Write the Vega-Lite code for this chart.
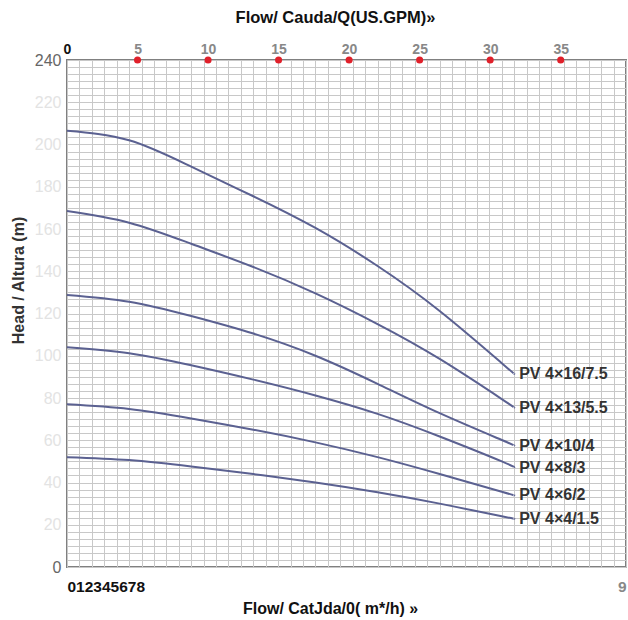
{
  "$schema": "https://vega.github.io/schema/vega-lite/v6.json",
  "width": 559,
  "height": 507,
  "autosize": {"type": "none"},
  "padding": {"left": 67, "top": 60, "right": 2, "bottom": 53},
  "background": "white",
  "config": {
    "view": {"stroke": "#808080", "strokeWidth": 2},
    "font": "Liberation Sans"
  },
  "datasets": {
    "curves": [
      {"model": "PV 4×16/7.5", "flow": 0, "head": 206.5},
      {"model": "PV 4×16/7.5", "flow": 1, "head": 202},
      {"model": "PV 4×16/7.5", "flow": 2, "head": 189.5},
      {"model": "PV 4×16/7.5", "flow": 3, "head": 175.5},
      {"model": "PV 4×16/7.5", "flow": 4, "head": 160.5},
      {"model": "PV 4×16/7.5", "flow": 5, "head": 142.5},
      {"model": "PV 4×16/7.5", "flow": 6, "head": 121.2},
      {"model": "PV 4×16/7.5", "flow": 7, "head": 96.5},
      {"model": "PV 4×16/7.5", "flow": 7.2, "head": 91.5},
      {"model": "PV 4×13/5.5", "flow": 0, "head": 168.5},
      {"model": "PV 4×13/5.5", "flow": 1, "head": 163},
      {"model": "PV 4×13/5.5", "flow": 2, "head": 153},
      {"model": "PV 4×13/5.5", "flow": 3, "head": 142},
      {"model": "PV 4×13/5.5", "flow": 4, "head": 129.5},
      {"model": "PV 4×13/5.5", "flow": 5, "head": 115},
      {"model": "PV 4×13/5.5", "flow": 6, "head": 98.5},
      {"model": "PV 4×13/5.5", "flow": 7, "head": 79.5},
      {"model": "PV 4×13/5.5", "flow": 7.2, "head": 75.5},
      {"model": "PV 4×10/4", "flow": 0, "head": 128.8},
      {"model": "PV 4×10/4", "flow": 1, "head": 125.6},
      {"model": "PV 4×10/4", "flow": 2, "head": 118.8},
      {"model": "PV 4×10/4", "flow": 3, "head": 110.5},
      {"model": "PV 4×10/4", "flow": 4, "head": 100},
      {"model": "PV 4×10/4", "flow": 5, "head": 86.7},
      {"model": "PV 4×10/4", "flow": 6, "head": 72.8},
      {"model": "PV 4×10/4", "flow": 7, "head": 60.1},
      {"model": "PV 4×10/4", "flow": 7.2, "head": 57.5},
      {"model": "PV 4×8/3", "flow": 0, "head": 104},
      {"model": "PV 4×8/3", "flow": 1, "head": 101.2},
      {"model": "PV 4×8/3", "flow": 2, "head": 95.5},
      {"model": "PV 4×8/3", "flow": 3, "head": 88.7},
      {"model": "PV 4×8/3", "flow": 4, "head": 81.2},
      {"model": "PV 4×8/3", "flow": 5, "head": 72.5},
      {"model": "PV 4×8/3", "flow": 6, "head": 61.8},
      {"model": "PV 4×8/3", "flow": 7, "head": 50},
      {"model": "PV 4×8/3", "flow": 7.2, "head": 47},
      {"model": "PV 4×6/2", "flow": 0, "head": 77},
      {"model": "PV 4×6/2", "flow": 1, "head": 74.8},
      {"model": "PV 4×6/2", "flow": 2, "head": 70.3},
      {"model": "PV 4×6/2", "flow": 3, "head": 65},
      {"model": "PV 4×6/2", "flow": 4, "head": 59},
      {"model": "PV 4×6/2", "flow": 5, "head": 52},
      {"model": "PV 4×6/2", "flow": 6, "head": 44},
      {"model": "PV 4×6/2", "flow": 7, "head": 35.6},
      {"model": "PV 4×6/2", "flow": 7.2, "head": 34},
      {"model": "PV 4×4/1.5", "flow": 0, "head": 52},
      {"model": "PV 4×4/1.5", "flow": 1, "head": 50.6},
      {"model": "PV 4×4/1.5", "flow": 2, "head": 47.6},
      {"model": "PV 4×4/1.5", "flow": 3, "head": 44},
      {"model": "PV 4×4/1.5", "flow": 4, "head": 40},
      {"model": "PV 4×4/1.5", "flow": 5, "head": 35.4},
      {"model": "PV 4×4/1.5", "flow": 6, "head": 30},
      {"model": "PV 4×4/1.5", "flow": 7, "head": 24},
      {"model": "PV 4×4/1.5", "flow": 7.2, "head": 22.9}
    ],
    "gpm": [
      {"gpm": 5, "head": 240},
      {"gpm": 10, "head": 240},
      {"gpm": 15, "head": 240},
      {"gpm": 20, "head": 240},
      {"gpm": 25, "head": 240},
      {"gpm": 30, "head": 240},
      {"gpm": 35, "head": 240}
    ]
  },
  "layer": [
    {
      "data": {"name": "curves"},
      "layer": [
        {
          "mark": {"type": "line", "interpolate": "natural", "color": "#5b6191", "strokeWidth": 2},
          "encoding": {
            "x": {
              "field": "flow", "type": "quantitative",
              "scale": {"domain": [0, 9], "nice": false},
              "axis": {
                "orient": "bottom", "tickCount": 45, "grid": true, "gridColor": "#c8c8c8", "gridWidth": 1,
                "ticks": false, "domain": false,
                "labelExpr": "datum.value == 0 ? '012345678' : (datum.value == 9 ? '9' : '')",
                "labelOverlap": false, "labelFlush": false, "labelFontSize": 15.5, "labelFontWeight": "bold",
                "labelColor": {"condition": {"test": "datum.value == 0", "value": "#111111"}, "value": "#888888"},
                "labelAlign": {"condition": {"test": "datum.value == 0", "value": "left"}, "value": "right"},
                "labelPadding": 12,
                "title": "Flow/ CatJda/0( m*/h) »", "titleFontSize": 16, "titleFontWeight": "bold",
                "titleColor": "#111111", "titlePadding": 6, "titleX": 263
              }
            },
            "y": {
              "field": "head", "type": "quantitative",
              "scale": {"domain": [0, 240], "nice": false},
              "axis": {
                "orient": "left",
                "values": [0, 3.3333, 6.6667, 10, 13.3333, 16.6667, 20, 23.3333, 26.6667, 30, 33.3333, 36.6667, 40, 43.3333, 46.6667, 50, 53.3333, 56.6667, 60, 63.3333, 66.6667, 70, 73.3333, 76.6667, 80, 83.3333, 86.6667, 90, 93.3333, 96.6667, 100, 103.3333, 106.6667, 110, 113.3333, 116.6667, 120, 123.3333, 126.6667, 130, 133.3333, 136.6667, 140, 143.3333, 146.6667, 150, 153.3333, 156.6667, 160, 163.3333, 166.6667, 170, 173.3333, 176.6667, 180, 183.3333, 186.6667, 190, 193.3333, 196.6667, 200, 203.3333, 206.6667, 210, 213.3333, 216.6667, 220, 223.3333, 226.6667, 230, 233.3333, 236.6667, 240],
                "tickCount": 100,
                "grid": true, "gridColor": "#c8c8c8", "gridWidth": 1, "ticks": false, "domain": false,
                "labelExpr": "(datum.value > 1 && datum.value < 239 && abs(datum.value / 20 - round(datum.value / 20)) < 0.001) ? format(round(datum.value), 'd') : ''",
                "labelColor": "#e3e3e3",
                "labelFontSize": 16, "labelPadding": 6, "labelOverlap": false, "labelFlush": false,
                "title": "Head / Altura (m)", "titleFontSize": 16, "titleFontWeight": "bold", "titleColor": "#333333",
                "titleAngle": -90, "titleX": -49, "titleY": 220, "titleAlign": "center", "titleBaseline": "middle"
              }
            },
            "detail": {"field": "model"}
          }
        },
        {
          "transform": [{"filter": "datum.flow == 7.2"}],
          "mark": {"type": "text", "align": "left", "baseline": "middle", "dx": 5, "fontSize": 16, "fontWeight": "bold", "color": "#333333"},
          "encoding": {
            "x": {"field": "flow", "type": "quantitative"},
            "y": {"field": "head", "type": "quantitative"},
            "text": {"field": "model"}
          }
        }
      ]
    },
    {
      "data": {"name": "gpm"},
      "mark": {"type": "circle", "color": "#e0202a", "size": 50, "opacity": 1},
      "encoding": {
        "x": {
          "field": "gpm", "type": "quantitative",
          "scale": {"domain": [0, 39.63], "nice": false},
          "axis": {
            "orient": "top", "values": [0, 5, 10, 15, 20, 25, 30, 35], "grid": false, "ticks": false, "domain": false,
            "labelFontSize": 14, "labelFontWeight": "bold", "labelFlush": false, "labelOverlap": false,
            "labelColor": {"condition": {"test": "datum.value == 0", "value": "#111111"}, "value": "#888888"},
            "labelPadding": 4,
            "title": "Flow/ Cauda/Q(US.GPM)»", "titleFontSize": 16.5, "titleFontWeight": "bold",
            "titleColor": "#111111", "titlePadding": 17, "titleX": 268
          }
        },
        "y": {
          "field": "head", "type": "quantitative",
          "axis": {
            "orient": "left", "values": [0, 240], "grid": false, "ticks": false, "domain": false,
            "labelColor": "#666666", "labelFontSize": 16, "labelPadding": 6, "labelFlush": false, "labelOverlap": false,
            "title": null
          }
        }
      }
    }
  ],
  "resolve": {"scale": {"x": "independent"}, "axis": {"x": "independent", "y": "independent"}}
}
